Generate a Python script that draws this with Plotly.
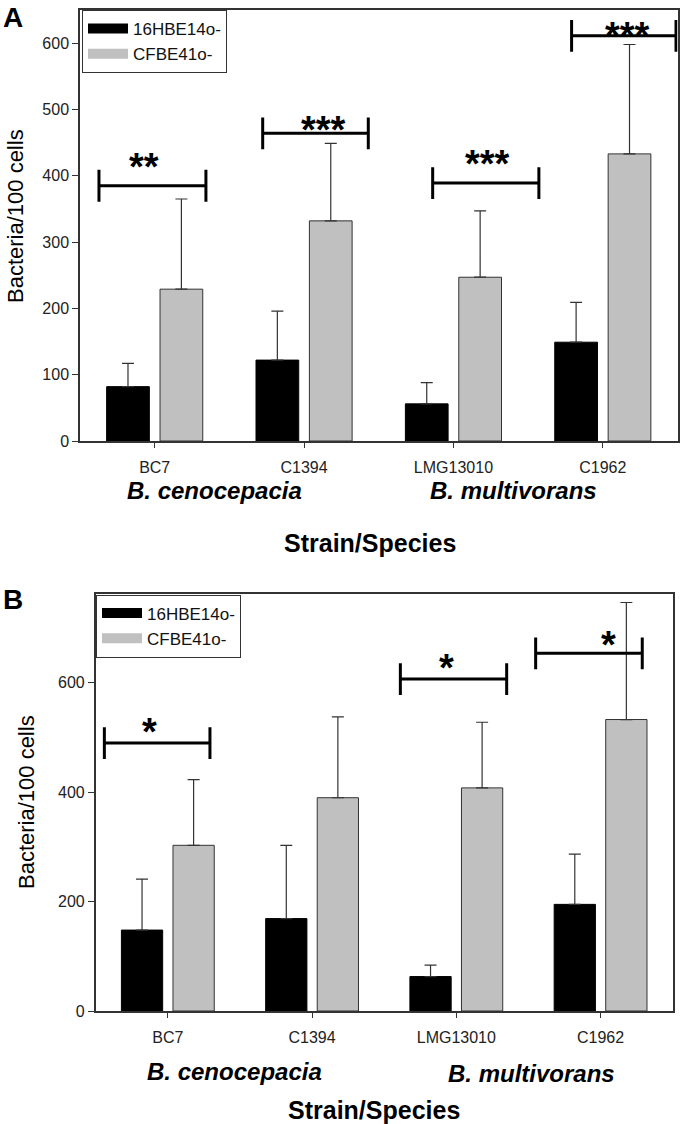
import plotly.graph_objects as go

# ---------------- data ----------------
strains = ["BC7", "C1394", "LMG13010", "C1962"]
series_names = ["16HBE14o-", "CFBE41o-"]

# Panel A
a_hbe = [82, 122, 56, 149]
a_hbe_err = [35, 74, 32, 60]
a_cfbe = [229, 332, 247, 433]
a_cfbe_err = [136, 117, 100, 165]
a_sig_text = ["**", "***", "***", "***"]
a_sig_left = [-0.373, 0.723, 1.861, 2.791]
a_sig_right = [0.343, 1.430, 2.572, 3.49]
a_sig_y = [385, 464, 389, 611]
a_star_x = [-0.072, 1.133, 2.231, 3.168]
a_star_y = [424, 480, 428, 622]

# Panel B
b_hbe = [148, 169, 63, 195]
b_hbe_err = [93, 134, 21, 92]
b_cfbe = [303, 390, 408, 533]
b_cfbe_err = [120, 148, 120, 214]
b_sig_text = ["*", "*", "*"]
b_sig_left = [-0.440, 1.612, 2.550]
b_sig_right = [0.292, 2.349, 3.289]
b_sig_y = [490, 607, 654]
b_star_x = [-0.130, 1.933, 3.058]
b_star_y = [523, 640, 683]

species = ["B. cenocepacia", "B. multivorans"]

# ---------------- layout helpers ----------------
W, H = 680, 1124
FONT = "Arial, Liberation Sans, sans-serif"
DARK = "#333333"

def px(x):
    return x / W

def py(y):
    return 1 - y / H

xpos = list(range(len(strains)))

fig = go.Figure()

def add_panel(xa, ya, hbe, hbe_err, cfbe, cfbe_err, legend):
    fig.add_trace(go.Bar(
        x=xpos, y=hbe, name=series_names[0], xaxis=xa, yaxis=ya,
        marker=dict(color="#000000", line=dict(color="#000000", width=1)),
        error_y=dict(type="data", array=hbe_err, arrayminus=[0] * 4, symmetric=False,
                     color=DARK, thickness=1.2, width=6),
        showlegend=False, offsetgroup="a",
    ))
    fig.add_trace(go.Bar(
        x=xpos, y=cfbe, name=series_names[1], xaxis=xa, yaxis=ya,
        marker=dict(color="#c0c0c0", line=dict(color=DARK, width=1)),
        error_y=dict(type="data", array=cfbe_err, arrayminus=[0] * 4, symmetric=False,
                     color=DARK, thickness=1.2, width=6),
        showlegend=False, offsetgroup="b",
    ))
    # legend entries (wide swatches)
    fig.add_trace(go.Scatter(x=[None], y=[None], mode="lines", name=series_names[0],
                             line=dict(color="#000000", width=12), xaxis=xa, yaxis=ya,
                             legend=legend))
    fig.add_trace(go.Scatter(x=[None], y=[None], mode="lines", name=series_names[1],
                             line=dict(color="#c0c0c0", width=12), xaxis=xa, yaxis=ya,
                             legend=legend))

def add_brackets(xa, ya, left, right, yv, half):
    xs, ys = [], []
    for l, r, y in zip(left, right, yv):
        xs += [l, l, None, l, r, None, r, r, None]
        ys += [y - half, y + half, None, y, y, None, y - half, y + half, None]
    fig.add_trace(go.Scatter(x=xs, y=ys, mode="lines", xaxis=xa, yaxis=ya,
                             line=dict(color="#000000", width=3), showlegend=False,
                             hoverinfo="skip"))

add_panel("x", "y", a_hbe, a_hbe_err, a_cfbe, a_cfbe_err, "legend")
add_panel("x2", "y2", b_hbe, b_hbe_err, b_cfbe, b_cfbe_err, "legend2")
add_brackets("x", "y", a_sig_left, a_sig_right, a_sig_y, 24)
add_brackets("x2", "y2", b_sig_left, b_sig_right, b_sig_y, 29)

annotations = []
for t, x, y in zip(a_sig_text, a_star_x, a_star_y):
    annotations.append(dict(text="<b>" + t + "</b>", x=x, y=y, xref="x", yref="y", showarrow=False,
                            font=dict(family=FONT, size=38, color="#000"),
                            xanchor="center", yanchor="middle", yshift=-7))
for t, x, y in zip(b_sig_text, b_star_x, b_star_y):
    annotations.append(dict(text="<b>" + t + "</b>", x=x, y=y, xref="x2", yref="y2", showarrow=False,
                            font=dict(family=FONT, size=38, color="#000"),
                            xanchor="center", yanchor="middle", yshift=-7))

def paper_text(text, x, y, size, bold=False, italic=False, angle=0, xanchor="center",
               yanchor="middle"):
    t = text
    if italic:
        t = "<i>" + t + "</i>"
    if bold:
        t = "<b>" + t + "</b>"
    annotations.append(dict(text=t, x=px(x), y=py(y), xref="paper", yref="paper",
                            showarrow=False, textangle=angle, xanchor=xanchor,
                            yanchor=yanchor,
                            font=dict(family=FONT, size=size, color="#000")))

# panel letters
paper_text("A", 1, 0, 28, bold=True, xanchor="left", yanchor="top")
paper_text("B", 1, 582, 28, bold=True, xanchor="left", yanchor="top")
# y titles
paper_text("Bacteria/100 cells", 15, 216, 22, angle=-90)
paper_text("Bacteria/100 cells", 26, 802, 22, angle=-90)
# species labels
paper_text(species[0], 214, 490, 24, bold=True, italic=True)
paper_text(species[1], 513, 490, 24, bold=True, italic=True)
paper_text(species[0], 234, 1071, 24, bold=True, italic=True)
paper_text(species[1], 531, 1073, 24, bold=True, italic=True)
# x titles
paper_text("Strain/Species", 370, 543, 25, bold=True)
paper_text("Strain/Species", 374, 1110, 25, bold=True)

axis_common = dict(showline=True, linecolor=DARK, linewidth=1.5, mirror=True,
                   showgrid=False, zeroline=False, ticks="outside", tickcolor=DARK,
                   tickfont=dict(family=FONT, size=16, color="#222"))

fig.update_layout(
    width=W, height=H,
    margin=dict(l=0, r=0, t=0, b=0, autoexpand=False),
    paper_bgcolor="white", plot_bgcolor="white",
    barmode="group", bargap=0.285, bargroupgap=0.2,
    font=dict(family=FONT, color="#222"),
    xaxis=dict(domain=[px(80), px(677.5)], anchor="y", range=[-0.5, 3.5],
               tickvals=xpos, ticktext=strains, ticklen=5, ticklabelstandoff=6,
               **axis_common),
    yaxis=dict(domain=[py(441), py(10)], anchor="x", range=[0, 650],
               tickvals=[0, 100, 200, 300, 400, 500, 600], ticklen=6, **axis_common),
    xaxis2=dict(domain=[px(95.7), px(672.7)], anchor="y2", range=[-0.5, 3.5],
                tickvals=xpos, ticktext=strains, ticklen=5, ticklabelstandoff=6,
                **axis_common),
    yaxis2=dict(domain=[py(1011), py(594.3)], anchor="x2", range=[0, 762],
                tickvals=[0, 200, 400, 600], ticklen=6, **axis_common),
    legend=dict(x=px(82), y=py(10), xanchor="left", yanchor="top",
                bordercolor=DARK, borderwidth=1, bgcolor="white", itemwidth=40,
                font=dict(family=FONT, size=17, color="#111"), tracegroupgap=0),
    legend2=dict(x=px(96), y=py(594.5), xanchor="left", yanchor="top",
                 bordercolor=DARK, borderwidth=1, bgcolor="white", itemwidth=40,
                 font=dict(family=FONT, size=17, color="#111"), tracegroupgap=0),
    annotations=annotations,
)

fig.write_html("out.html", config={"displayModeBar": False},
               post_script="document.body.style.margin='0';document.body.style.overflow='hidden';")
